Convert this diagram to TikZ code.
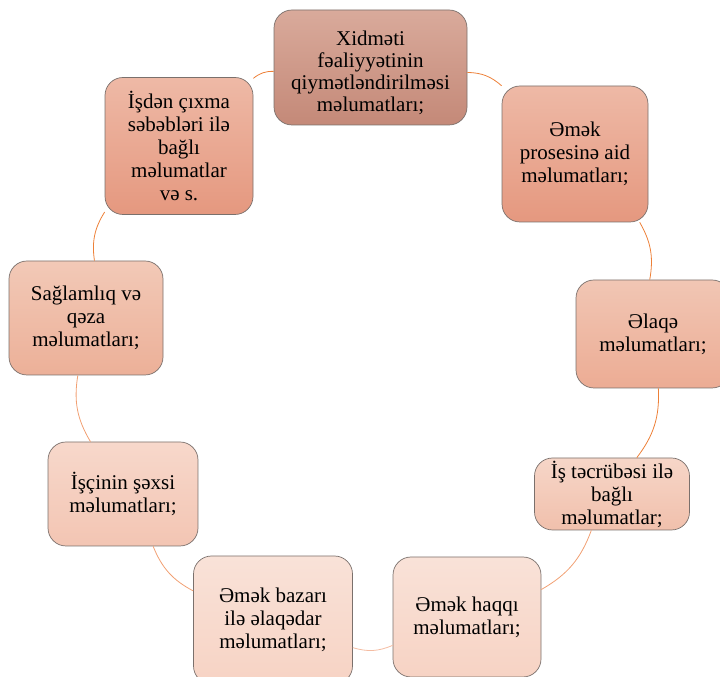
\documentclass[tikz,border=0pt]{standalone}
\usepackage{fontspec}
\setmainfont{Liberation Serif}
\definecolor{edgegray}{RGB}{122,112,108}
\definecolor{t1}{RGB}{217,170,155}\definecolor{b1}{RGB}{196,137,120}
\definecolor{t2}{RGB}{238,185,166}\definecolor{b2}{RGB}{229,152,127}
\definecolor{t3}{RGB}{241,198,180}\definecolor{b3}{RGB}{236,172,148}
\definecolor{t4}{RGB}{246,214,200}\definecolor{b4}{RGB}{241,192,172}
\definecolor{t5}{RGB}{249,226,216}\definecolor{b5}{RGB}{247,211,196}
\definecolor{t7}{RGB}{247,216,203}\definecolor{b7}{RGB}{243,197,179}
\definecolor{t8}{RGB}{242,201,183}\definecolor{b8}{RGB}{236,176,152}
\definecolor{c1}{RGB}{237,128,56}
\definecolor{c2}{RGB}{241,160,115}
\definecolor{c3}{RGB}{244,188,162}
\begin{document}
\begin{tikzpicture}[x=1pt,y=1pt,
  box/.style={rounded corners=18pt, draw=edgegray, line width=0.7pt,
    align=center, inner sep=0pt, font=\fontsize{21}{23}\selectfont},
  link/.style={line width=0.8pt, bend left=20}]
\useasboundingbox (0,0) rectangle (720,677);
\clip (0,0) rectangle (720,677);
\node[box, top color=t1, bottom color=b1, minimum width=193, minimum height=115,
  font=\fontsize{21}{22}\selectfont] (n1) at (370.5,609.5)
  {\rule{0pt}{25pt}Xidməti\\fəaliyyətinin\\qiymətləndirilməsi\\məlumatları;};
\node[box, top color=t2, bottom color=b2, minimum width=146, minimum height=136] (n2) at (575,523)
  {Əmək\\prosesinə aid\\məlumatları;};
\node[box, top color=t3, bottom color=b3, minimum width=154, minimum height=108] (n3) at (653,343)
  {Əlaqə\\məlumatları;};
\node[box, top color=t4, bottom color=b4, minimum width=155, minimum height=72] (n4) at (612,183)
  {İş təcrübəsi ilə\\bağlı\\məlumatlar;};
\node[box, top color=t5, bottom color=b5, minimum width=148, minimum height=120] (n5) at (467,60)
  {Əmək haqqı\\məlumatları;};
\node[box, top color=t5, bottom color=b5, minimum width=159, minimum height=128] (n6) at (273,57)
  {Əmək bazarı\\ilə əlaqədar\\məlumatları;};
\node[box, top color=t7, bottom color=b7, minimum width=150, minimum height=104] (n7) at (123,183)
  {İşçinin şəxsi\\məlumatları;};
\node[box, top color=t8, bottom color=b8, minimum width=154, minimum height=114] (n8) at (86,359)
  {Sağlamlıq və\\qəza\\məlumatları;};
\node[box, top color=t2, bottom color=b2, minimum width=148, minimum height=137] (n9) at (179,531)
  {İşdən çıxma\\səbəbləri ilə\\bağlı\\məlumatlar\\və s.};
\draw[link, c1] (n1) to (n2);
\draw[link, c1] (n2) to (n3);
\draw[link, c1] (n3) to (n4);
\draw[link, c2] (n4) to (n5);
\draw[link, c3] (n5) to (n6);
\draw[link, c2] (n6) to (n7);
\draw[link, c2] (n7) to (n8);
\draw[link, c1] (n8) to (n9);
\draw[link, c1] (n9) to (n1);
\end{tikzpicture}
\end{document}
